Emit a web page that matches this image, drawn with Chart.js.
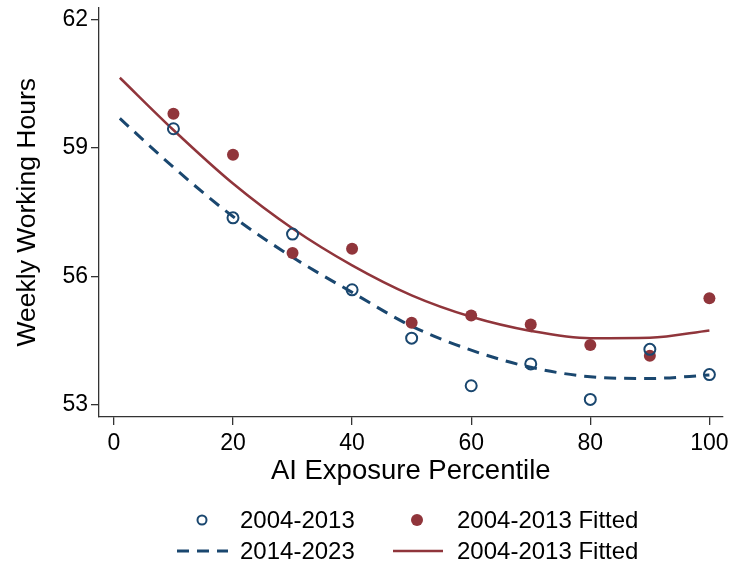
<!DOCTYPE html>
<html>
<head>
<meta charset="utf-8">
<script src="https://cdn.jsdelivr.net/npm/chart.js@4/dist/chart.umd.min.js"></script>
<style>
  html, body { margin: 0; padding: 0; background: #fff; }
  #wrap { width: 730px; height: 567px; }
</style>
</head>
<body>
<div id="wrap"><canvas id="hoursChart" width="730" height="567"></canvas></div>
<script>
// percentile bins for the scatter points
const binX = [10, 20, 30, 40, 50, 60, 70, 80, 90, 100];
// hollow blue circles
const hours0413 = [59.45, 57.37, 56.99, 55.69, 54.56, 53.45, 53.96, 53.13, 54.30, 53.71];
// filled red dots
const hours0413Fitted = [59.80, 58.84, 56.55, 56.65, 54.92, 55.09, 54.88, 54.40, 54.15, 55.49];

// fitted curves
const fitX = [1, 10, 20, 30, 40, 50, 60, 70, 80, 90, 100];
const fit1423 = [59.69, 58.55, 57.40, 56.45, 55.63, 54.84, 54.28, 53.88, 53.66, 53.62, 53.70];
const fit0413 = [60.64, 59.42, 58.17, 57.12, 56.26, 55.56, 55.06, 54.73, 54.56, 54.57, 54.74];

const xTicks = [0, 20, 40, 60, 80, 100];
const yTicks = [53, 56, 59, 62];

const legendLabels = ['2004-2013', '2004-2013 Fitted', '2014-2023', '2004-2013 Fitted'];

const NAVY = '#1a476f';
const MAROON = '#90353b';
const AXIS = '#333333';
const FONT = '"Liberation Sans", Arial, sans-serif';

function pts(xs, ys) {
  return xs.map((x, i) => ({ x: x, y: ys[i] }));
}

const data = {
  datasets: [
    {
      label: legendLabels[0],
      data: pts(binX, hours0413),
      showLine: false,
      pointStyle: 'circle',
      pointRadius: 5.5,
      pointBorderWidth: 2,
      pointBorderColor: NAVY,
      pointBackgroundColor: 'rgba(0,0,0,0)',
      borderColor: NAVY,
      order: 1
    },
    {
      label: legendLabels[1],
      data: pts(binX, hours0413Fitted),
      showLine: false,
      pointStyle: 'circle',
      pointRadius: 6,
      pointBorderWidth: 0,
      pointBackgroundColor: MAROON,
      borderColor: MAROON,
      order: 2
    },
    {
      label: legendLabels[2],
      data: pts(fitX, fit1423),
      showLine: true,
      borderColor: NAVY,
      borderWidth: 3,
      borderDash: [12, 8],
      pointRadius: 0,
      cubicInterpolationMode: 'monotone',
      fill: false,
      order: 3
    },
    {
      label: legendLabels[3],
      data: pts(fitX, fit0413),
      showLine: true,
      borderColor: MAROON,
      borderWidth: 2.5,
      pointRadius: 0,
      cubicInterpolationMode: 'monotone',
      fill: false,
      order: 4
    }
  ]
};

// stata style legend, 2 columns x 2 rows under the axis title
const legendPlugin = {
  id: 'stataLegend',
  afterDraw(chart) {
    const ctx = chart.ctx;
    const ds = chart.data.datasets;
    const rows = [520, 551];
    const cols = [{ mark: 202, line: [177, 228], text: 240 }, { mark: 417, line: [393, 443], text: 457 }];
    const items = [
      { i: 0, col: 0, row: 0, kind: 'hollow' },
      { i: 1, col: 1, row: 0, kind: 'dot' },
      { i: 2, col: 0, row: 1, kind: 'line' },
      { i: 3, col: 1, row: 1, kind: 'line' }
    ];
    ctx.save();
    items.forEach(it => {
      const d = ds[it.i];
      const c = cols[it.col];
      const y = rows[it.row];
      if (it.kind === 'hollow') {
        ctx.beginPath();
        ctx.arc(c.mark, y, 4.5, 0, Math.PI * 2);
        ctx.lineWidth = 2;
        ctx.strokeStyle = d.pointBorderColor;
        ctx.stroke();
      } else if (it.kind === 'dot') {
        ctx.beginPath();
        ctx.arc(c.mark, y, 6, 0, Math.PI * 2);
        ctx.fillStyle = d.pointBackgroundColor;
        ctx.fill();
      } else {
        ctx.beginPath();
        ctx.setLineDash(d.borderDash || []);
        ctx.lineWidth = d.borderWidth;
        ctx.strokeStyle = d.borderColor;
        ctx.moveTo(c.line[0], y);
        ctx.lineTo(c.line[1], y);
        ctx.stroke();
        ctx.setLineDash([]);
      }
      ctx.font = '24px ' + FONT;
      ctx.fillStyle = '#000';
      ctx.textBaseline = 'middle';
      ctx.textAlign = 'left';
      ctx.fillText(d.label, c.text, y + 1);
    });
    ctx.restore();
  }
};

const tickFont = { family: FONT, size: 23 };

const config = {
  type: 'scatter',
  data,
  options: {
    responsive: false,
    animation: false,
    layout: { padding: { top: 5, right: 7, bottom: 78, left: 0 } },
    plugins: {
      legend: { display: false },
      tooltip: { enabled: false }
    },
    scales: {
      x: {
        type: 'linear',
        min: -2.5,
        max: 102.2,
        afterBuildTicks: s => { s.ticks = xTicks.map(v => ({ value: v })); },
        afterFit: s => { s.height = 72; s.paddingLeft = 0; s.paddingRight = 0; },
        ticks: { font: tickFont, color: '#000', padding: 5, maxRotation: 0 },
        grid: { display: true, drawOnChartArea: false, drawTicks: true, tickLength: 8, color: AXIS, lineWidth: 1.3 },
        border: { display: true, color: AXIS, width: 1.3 },
        title: { display: true, text: 'AI Exposure Percentile', font: { family: FONT, size: 27.5 }, color: '#000', padding: { top: 0, bottom: 1 } }
      },
      y: {
        type: 'linear',
        min: 52.72,
        max: 62.28,
        afterBuildTicks: s => { s.ticks = yTicks.map(v => ({ value: v })); },
        afterFit: s => { s.width = 99; s.paddingTop = 0; s.paddingBottom = 0; },
        ticks: { font: tickFont, color: '#000', padding: 3 },
        grid: { display: true, drawOnChartArea: false, drawTicks: true, tickLength: 8, color: AXIS, lineWidth: 1.3 },
        border: { display: true, color: AXIS, width: 1.3 },
        title: { display: true, text: 'Weekly Working Hours', font: { family: FONT, size: 26.5 }, color: '#000', padding: { top: 12, bottom: 0 } }
      }
    }
  },
  plugins: [legendPlugin]
};

const hoursChart = new Chart(document.getElementById('hoursChart').getContext('2d'), config);
</script>
</body>
</html>
